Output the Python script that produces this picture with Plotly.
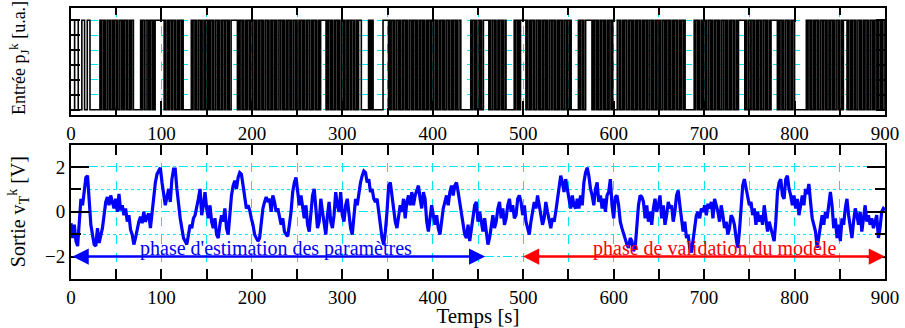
import numpy as np
import plotly.graph_objects as go
from plotly.subplots import make_subplots

# ---------------- data ----------------
# Input PRBS (one character per second, 0 = low level, 1 = high level), t = 0..899 s
prbs_rows = [
    "0000111100 0011100011 1000000000 0010110100 1101001011 0100110101 1010010110 0000000101 1001101011 0101111111",
    "1110100101 1011010010 1101000000 0001011010 0110100101 1010110100 1101001011 0110100111 1111010110 1001011010",
    "0110100101 1010011010 0101101001 1011010010 1101001101 0010110100 1011001011 0100101111 1101011010 0101101001",
    "1010010110 1101001011 1000000001 0101000000 0000011111 1010110100 1101001011 0100110101 1010010110 1001011010",
    "0110100101 1010011010 0101101001 1000000000 0010110100 1101001111 1101001101 0010110100 1000000000 1011010111",
    "1110100101 1010011010 0101101001 1011010010 1101001101 1010000000 0101101001 1111110101 1010010110 1001011010",
    "0000110100 1011001011 0100101101 0010110100 1101001011 0100110101 1010010110 1001011010 0000000001 0110100101",
    "1010011010 0101101001 1011010010 1101001011 1111101001 1011010010 1101001101 0010111111 1010110100 1101001011",
    "0000000000 0001011010 0101101001 1011010010 1101001101 0010111101 0010110100 1101001011 0100110101 1010010110",
]

vt_seg1 = [-0.51, -1.17, -0.58, -1.31, -1.53, -0.29, 0.58, 0.29, 1.02, 1.53, 1.61, 0.29, -0.58, -1.02,
           -1.46, -1.53, -0.73, -1.39, -1.02, -0.73, -0.15, 0.44, 0.66, 0.29, 0.73, 0.44, 0.15, 0.58,
           0.0, 0.80, 0.07, 0.29, -0.15, 0.15, -0.44, -0.15, -0.80, -1.02, -1.46, -1.17, -0.73, -0.44,
           -0.22, -0.51, 0.0, -0.44, -0.22, -0.07, -0.73, 0.07, 0.58, 1.31, 1.68, 1.82, 1.97, 1.31,
           0.88, 0.29, 0.66, 1.02, 0.44, 1.46, 1.90, 1.90, 1.02, 0.29, -0.29, -0.73, -1.17, -1.31,
           -1.46, -1.02, -0.58, -0.73, -0.29, -0.15, 0.15, 0.58, 1.02]
vt_seg2 = [-0.15, 0.29, 0.88, 0.15, -0.29, 0.29, -0.44, -0.73, -0.29, -1.02, -1.17, -0.58, -0.15,
           -0.44, 0.15, -0.73, -1.02, -0.15, 0.73, 1.17, 1.39, 1.02, 1.53, 1.75, 1.68, 1.17, 0.73,
           0.15, 0.29, 0.07, -0.29, -0.58, -1.02, -1.17, -1.31, -1.17, -0.44, 0.15, 0.44, 0.66, 0.44,
           0.58, 0.0, 0.73, 0.44, 0.0, 0.15, -0.29, -0.58, -0.29, -0.88, -1.02, -1.09, -0.58, 0.0,
           0.88, 1.31, 1.53, 0.88, 0.29, 0.73, 0.15, -0.29, 0.29, -0.58, -0.88, -0.15, 0.73, 1.02,
           0.15, -0.73, -0.44, 0.58, 0.0, -0.58, -1.02, -0.15, 0.44, -0.44, -0.73, -0.15, 0.88, 0.29, 0.0]
vt_seg3 = [0.88, -0.15, -0.44, 0.29, 0.58, 0.0, -0.73, -1.02, -0.15, 0.58, 0.29, 0.88, 1.31, 1.61,
           1.82, 1.75, 1.31, 1.46, 0.88, 1.02, 0.58, 0.44, 0.58, 0.0, -0.58, -1.17, -1.46, -0.88, 0.0,
           1.17, 1.31, 0.73, 0.29, -0.44, -0.73, -0.15, 0.29, 0.0, 0.58, -0.29, 0.44, 0.73, 0.29, 0.88,
           0.29, 0.73, 1.02, 1.17, 0.58, 0.15, 0.88, 0.58, -0.44, -0.88, -0.29, 0.29, -0.15, -0.58,
           -0.15, -0.73, -1.02, -0.29, 0.15, 0.44, 0.73, 0.29, 0.88, 1.17, 0.73, 1.17, 1.31, 0.88, 0.44,
           -0.15, -0.44, -1.02, -1.17, -0.58, -1.31, -0.73, -0.15, 0.29, 0.44]
vt_seg4 = [-0.44, 0.0, -0.58, -0.88, -0.29, -1.02, -1.46, -1.17, -0.58, -0.15, -0.73, -0.44, 0.15,
           0.44, -0.29, 0.15, -0.58, -0.29, 0.29, 0.58, 0.0, 0.29, -0.29, -0.15, 0.58, 0.73, 0.44,
           -0.15, 0.29, -0.44, -0.73, -1.02, -0.44, 0.0, 0.44, 0.15, 0.73, 0.29, -0.15, -0.58, -0.29,
           0.44, 0.0, -0.44, -0.73, -0.29, -0.44, 0.0, 0.58, 1.31, 1.61, 1.31, 0.88, 1.46, 1.02, 0.44,
           0.15, 0.73, 0.29, 0.15, 0.58, 0.15, 0.73, 0.29, 1.31, 1.75, 1.97, 1.61, 1.02, 0.73, 0.29,
           1.02, 1.31, 0.44, 0.73, 0.15, 0.58, 0.0, 0.73, 0.88, 1.46, 0.29, -0.29]
vt_seg5 = [0.66, 0.73, 0.29, -0.44, -0.73, -1.02, -1.17, -1.46, -1.61, -1.17, -1.31, -1.75, -1.61,
           -0.73, 0.29, 0.73, 0.66, 0.44, -0.29, 0.29, -0.44, 0.0, -0.58, 0.15, 0.58, 0.0, 0.29, 0.73,
           -0.29, 0.29, -0.58, -0.15, 0.44, 0.15, 0.29, -0.44, 0.0, 0.73, 0.95, 0.29, -0.29, -0.88,
           -0.44, -1.17, -1.02, -1.61, -1.82, -1.31, -0.58, -0.15, 0.0, -0.29, 0.15, 0.0, 0.29, -0.15,
           0.36, 0.15, 0.44, -0.29, 0.58, 0.29, 0.0, -0.44, 0.29, -0.15, -0.73, -0.44, -1.02, -0.73,
           -0.15, -0.29, -0.58, -1.17, -1.61, -0.88, 0.29, 1.17, 1.46, 1.02, 0.58, 0.29, 0.44]
vt_seg6 = [-0.15, 0.15, -0.58, 0.0, -0.44, -0.15, -0.58, 0.29, -0.29, -0.88, -0.44, -0.73, -1.02,
           -1.31, -0.44, 0.88, 1.31, 1.46, 0.73, 0.58, 1.46, 1.61, 1.02, 0.73, 0.29, 0.73, 0.15, 0.58,
           -0.15, 0.29, 0.73, 0.29, 1.02, 0.80, 1.24, 0.44, -0.29, -0.58, -0.88, -1.61, -1.17, -0.73,
           -0.15, -0.58, 0.0, -0.29, 0.29, 0.88, 0.29, -0.73, -0.29, -1.17, -0.58, -1.31, -0.29, -0.58,
           0.15, 0.58, -0.15, -0.73, -1.17, -0.44, 0.15, -0.15, -0.58, 0.0, -0.88, -0.29, 0.29, -0.44,
           -0.15, -0.58, -0.29, -0.73, -0.44, -0.15, -1.17, -0.73, 0.0, 0.15, 0.07]

x_ticks = [0, 100, 200, 300, 400, 500, 600, 700, 800, 900]
y_ticks_out = [-2, 0, 2]

label_est = "phase d'estimation des paramètres"
label_val = "phase de validation du modèle"

# ---------------- build series ----------------
bits = "".join(prbs_rows).replace(" ", "")
prbs = [int(c) for c in bits]
t_in = list(range(len(prbs))) + [len(prbs)]
p_in = prbs + [prbs[-1]]

vt = vt_seg1 + vt_seg2 + vt_seg3 + vt_seg4 + vt_seg5 + vt_seg6
t_out = np.linspace(0, 900, len(vt))

FONT = "Liberation Serif, Times New Roman, serif"
CYAN = "#00e5ee"

fig = make_subplots(rows=2, cols=1, vertical_spacing=0.0)
fig.add_trace(go.Scatter(x=t_in, y=p_in, mode="lines", line=dict(color="black", width=1.6, shape="hv"),
                         showlegend=False), row=1, col=1)
fig.add_trace(go.Scatter(x=t_out, y=vt, mode="lines", line=dict(color="#0000ff", width=3.2),
                         showlegend=False), row=2, col=1)

common_x = dict(range=[0, 900], tickvals=x_ticks, ticks="inside", mirror="allticks", showline=True,
                linecolor="black", linewidth=2, tickcolor="black", tickwidth=2,
                showgrid=True, gridcolor=CYAN, griddash="dash", gridwidth=1, zeroline=False,
                tickfont=dict(family=FONT, size=19, color="black"))

fig.update_layout(
    width=905, height=328, paper_bgcolor="white", plot_bgcolor="white",
    margin=dict(l=71, r=16, t=6, b=46),
    xaxis=dict(common_x, domain=[0, 1], anchor="y", ticklen=14,
               minor=dict(dtick=50, tick0=0, ticks="inside", ticklen=7, tickcolor="black", tickwidth=2,
                          showgrid=True, gridcolor=CYAN, griddash="dash", gridwidth=1)),
    yaxis=dict(domain=[0.605, 1.0], anchor="x", range=[-0.06, 1.137],
               tickvals=[0, 1/6, 2/6, 3/6, 4/6, 5/6, 1], showticklabels=False,
               ticks="inside", ticklen=9, tickcolor="black", tickwidth=2, mirror="allticks",
               showline=True, linecolor="black", linewidth=2,
               showgrid=True, gridcolor=CYAN, griddash="dash", gridwidth=1, zeroline=False),
    xaxis2=dict(common_x, domain=[0, 1], anchor="y2", ticklen=10,
                minor=dict(dtick=50, tick0=0, ticks="inside", ticklen=10, tickcolor="black", tickwidth=2,
                           showgrid=True, gridcolor=CYAN, griddash="dash", gridwidth=1),
                title=dict(text="Temps [s]", font=dict(family=FONT, size=21, color="black"), standoff=0)),
    yaxis2=dict(domain=[0, 0.496], anchor="x2", range=[-3, 3], tickvals=y_ticks_out,
                ticks="inside", ticklen=18, tickcolor="black", tickwidth=2, mirror="allticks",
                showline=True, linecolor="black", linewidth=2,
                tickfont=dict(family=FONT, size=19, color="black"),
                showgrid=True, gridcolor=CYAN, griddash="dash", gridwidth=1, zeroline=False,
                minor=dict(dtick=1, tick0=0, ticks="inside", ticklen=10, tickcolor="black", tickwidth=2,
                           showgrid=True, gridcolor=CYAN, griddash="dot", gridwidth=1)),
)

# y-axis titles
fig.add_annotation(text="Entrée p<sub>J</sub><sup>k</sup> [u.a.]", xref="paper", yref="paper",
                   x=-0.064, y=0.815, xanchor="center", yanchor="middle", textangle=-90, showarrow=False,
                   font=dict(family=FONT, size=18, color="black"))
fig.add_annotation(text="Sortie v<sub>T</sub><sup>k</sup> [V]", xref="paper", yref="paper",
                   x=-0.064, y=0.25, xanchor="center", yanchor="middle", textangle=-90, showarrow=False,
                   font=dict(family=FONT, size=20, color="black"))

# phase arrows
fig.add_annotation(x=458, y=-2, ax=0, ay=-2, xref="x2", yref="y2", axref="x2", ayref="y2",
                   text="", showarrow=True, arrowhead=2, startarrowhead=2, arrowside="end+start",
                   arrowsize=1.3, startarrowsize=1.3, arrowwidth=2.5, arrowcolor="#0000ff")
fig.add_annotation(x=900, y=-2, ax=498, ay=-2, xref="x2", yref="y2", axref="x2", ayref="y2",
                   text="", showarrow=True, arrowhead=2, startarrowhead=2, arrowside="end+start",
                   arrowsize=1.3, startarrowsize=1.3, arrowwidth=2.5, arrowcolor="#ff0000")
fig.add_annotation(x=227, y=-1.65, xref="x2", yref="y2", text=label_est, showarrow=False,
                   font=dict(family=FONT, size=20, color="#0000ff"))
fig.add_annotation(x=712, y=-1.65, xref="x2", yref="y2", text=label_val, showarrow=False,
                   font=dict(family=FONT, size=20, color="#ff0000"))

fig.write_html("out.html", config={"displayModeBar": False},
               post_script="document.body.style.margin='0';document.body.style.overflow='hidden';")
